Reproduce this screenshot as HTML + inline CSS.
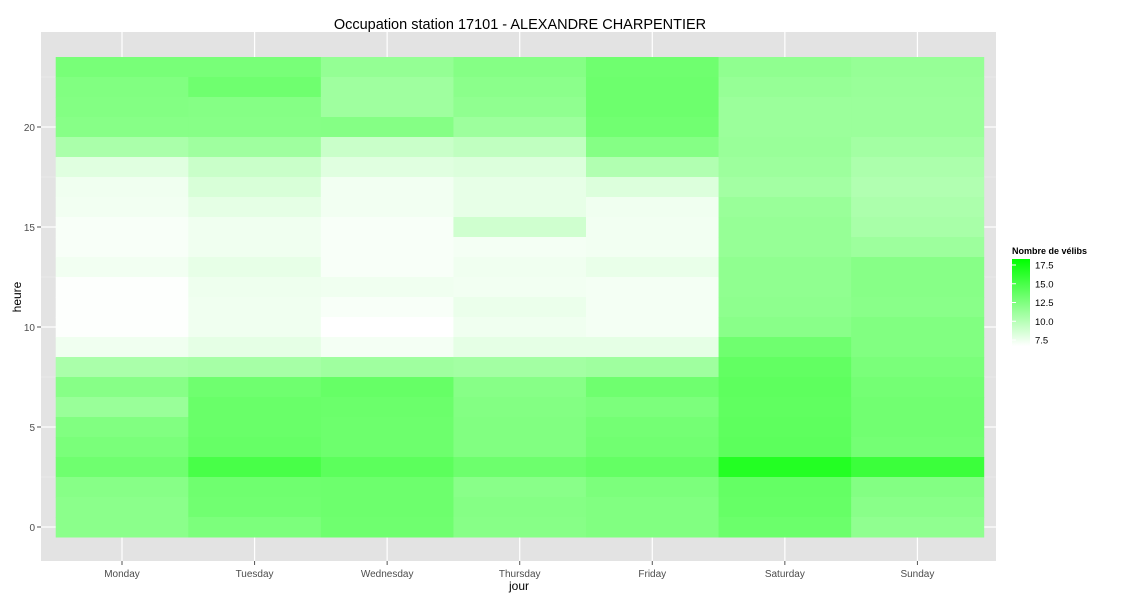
<!DOCTYPE html>
<html><head><meta charset="utf-8"><style>
body{margin:0;background:#fff;font-family:"Liberation Sans",sans-serif;}
</style></head><body>
<svg id="chart" width="1125" height="600" xmlns="http://www.w3.org/2000/svg" font-family="Liberation Sans, sans-serif">
<text x="520" y="29" font-size="14.5" text-anchor="middle" fill="#000">Occupation station 17101 - ALEXANDRE CHARPENTIER</text>
<rect x="41" y="32" width="955" height="529" fill="#E3E3E3"/>
<g id="grid"></g>
<g id="tiles"></g>
<g id="axes"></g>
<text x="519" y="590" font-size="12" text-anchor="middle">jour</text>
<text x="21" y="297" font-size="12" text-anchor="middle" transform="rotate(-90 21 297)">heure</text>
<g>
<text x="1012" y="254" font-size="9" font-weight="bold">Nombre de vélibs</text>
<defs><linearGradient id="lg" x1="0" y1="1" x2="0" y2="0"><stop offset="0" stop-color="#fff"/><stop offset="1" stop-color="#00ff00"/></linearGradient></defs>
<rect x="1012" y="259" width="18" height="87" fill="url(#lg)"/>
<g id="legend-ticks"></g>
</g>
</svg>
<script>
const days=["Monday","Tuesday","Wednesday","Thursday","Friday","Saturday","Sunday"];
const hours=[23,22,21,20,19,18,17,16,15,14,13,12,11,10,9,8,7,6,5,4,3,2,1,0];
const monday=[12.8,12.4,12.3,12.1,10.5,8.0,7.3,7.2,6.9,6.9,7.2,6.7,6.7,6.7,7.3,10.5,12.1,11.3,12.4,12.7,13.2,12.1,11.9,11.9];
const tuesday=[12.8,13.2,12.2,12.1,11.0,9.1,8.4,7.8,7.3,7.3,7.7,7.4,7.3,7.3,7.8,10.7,13.2,13.5,13.5,13.6,15.0,13.2,13.1,12.6];
const wednesday=[11.5,11.0,11.0,12.2,9.1,8.0,7.2,7.2,6.9,6.9,6.9,7.3,6.9,6.6,7.1,11.0,13.6,13.4,13.3,13.3,14.1,13.3,13.3,13.2];
const thursday=[12.2,11.9,11.7,11.1,9.5,8.2,7.7,7.7,8.8,7.1,7.3,7.2,7.5,7.3,7.8,10.8,12.1,12.3,12.4,12.4,13.3,12.0,12.2,12.1];
const friday=[13.2,13.3,13.3,13.1,12.2,10.2,8.2,7.3,7.2,7.2,7.6,7.1,7.1,7.1,7.8,11.0,13.2,12.6,13.0,13.1,13.7,12.6,12.4,12.4];
const saturday=[11.7,11.4,11.2,11.2,11.3,11.1,10.8,11.3,11.4,11.4,11.7,11.7,11.8,12.0,13.2,13.8,14.0,13.9,14.0,14.1,16.7,13.7,13.6,13.4];
const sunday=[11.4,11.3,11.2,11.2,10.8,10.4,10.2,10.4,10.6,11.1,12.1,12.1,12.0,12.4,12.4,12.7,13.0,13.1,13.1,13.0,15.6,12.3,12.0,11.7];
const series=[monday,tuesday,wednesday,thursday,friday,saturday,sunday];
const yTicks=[0,5,10,15,20];
const legendTicks=[7.5,10.0,12.5,15.0,17.5];
const vMin=6.6, vMax=18.3;
const NS="http://www.w3.org/2000/svg";
const colW=132.57;
const xC=i=>122+colW*i;
const yC=h=>527-20*h;
const lgY=v=>340-(v-7.5)*7.5;
function col(v){const t=Math.max(0,Math.min(1,(v-vMin)/(vMax-vMin)));const c=Math.round(255*(1-t));return `rgb(${c},255,${c})`;}
function mk(tag,attrs,parent){const e=document.createElementNS(NS,tag);for(const k in attrs)e.setAttribute(k,attrs[k]);parent.appendChild(e);return e;}
const grid=document.getElementById('grid');
for(let h=2.5;h<=23;h+=5){const g=mk('line',{x1:41,x2:996,y1:yC(h),y2:yC(h),stroke:'#F0F0F0','stroke-width':0.6},grid);

}
yTicks.forEach(h=>{const g=mk('line',{x1:41,x2:996,y1:yC(h),y2:yC(h),stroke:'#fff','stroke-width':1.2},grid);

});
days.forEach((d,i)=>{const g=mk('line',{x1:xC(i),x2:xC(i),y1:32,y2:561,stroke:'#fff','stroke-width':1.2},grid);

});
const tiles=document.getElementById('tiles');
series.forEach((s,i)=>{s.forEach((v,j)=>{const h=hours[j];
const r=mk('rect',{x:xC(i)-colW/2,y:yC(h)-10,width:colW+0.5,height:20.5,fill:col(v)},tiles);

});});
const axes=document.getElementById('axes');
yTicks.forEach(h=>{const t=mk('text',{x:35,y:yC(h)+4,'font-size':10,'text-anchor':'end',fill:'#4D4D4D'},axes);t.textContent=h;


const l=mk('line',{x1:37,x2:41,y1:yC(h),y2:yC(h),stroke:'#555'},axes);

});
days.forEach((d,i)=>{const t=mk('text',{x:xC(i),y:577,'font-size':10,'text-anchor':'middle',fill:'#4D4D4D'},axes);t.textContent=d;


const l=mk('line',{x1:xC(i),x2:xC(i),y1:561,y2:565,stroke:'#555'},axes);

});
const lt=document.getElementById('legend-ticks');
legendTicks.forEach(v=>{const t=mk('text',{x:1035,y:lgY(v)+3.5,'font-size':9.5,fill:'#000'},lt);t.textContent=v.toFixed(1);


const l=mk('line',{x1:1012,x2:1016,y1:lgY(v),y2:lgY(v),stroke:'#fff'},lt);

});
</script>
</body></html>
